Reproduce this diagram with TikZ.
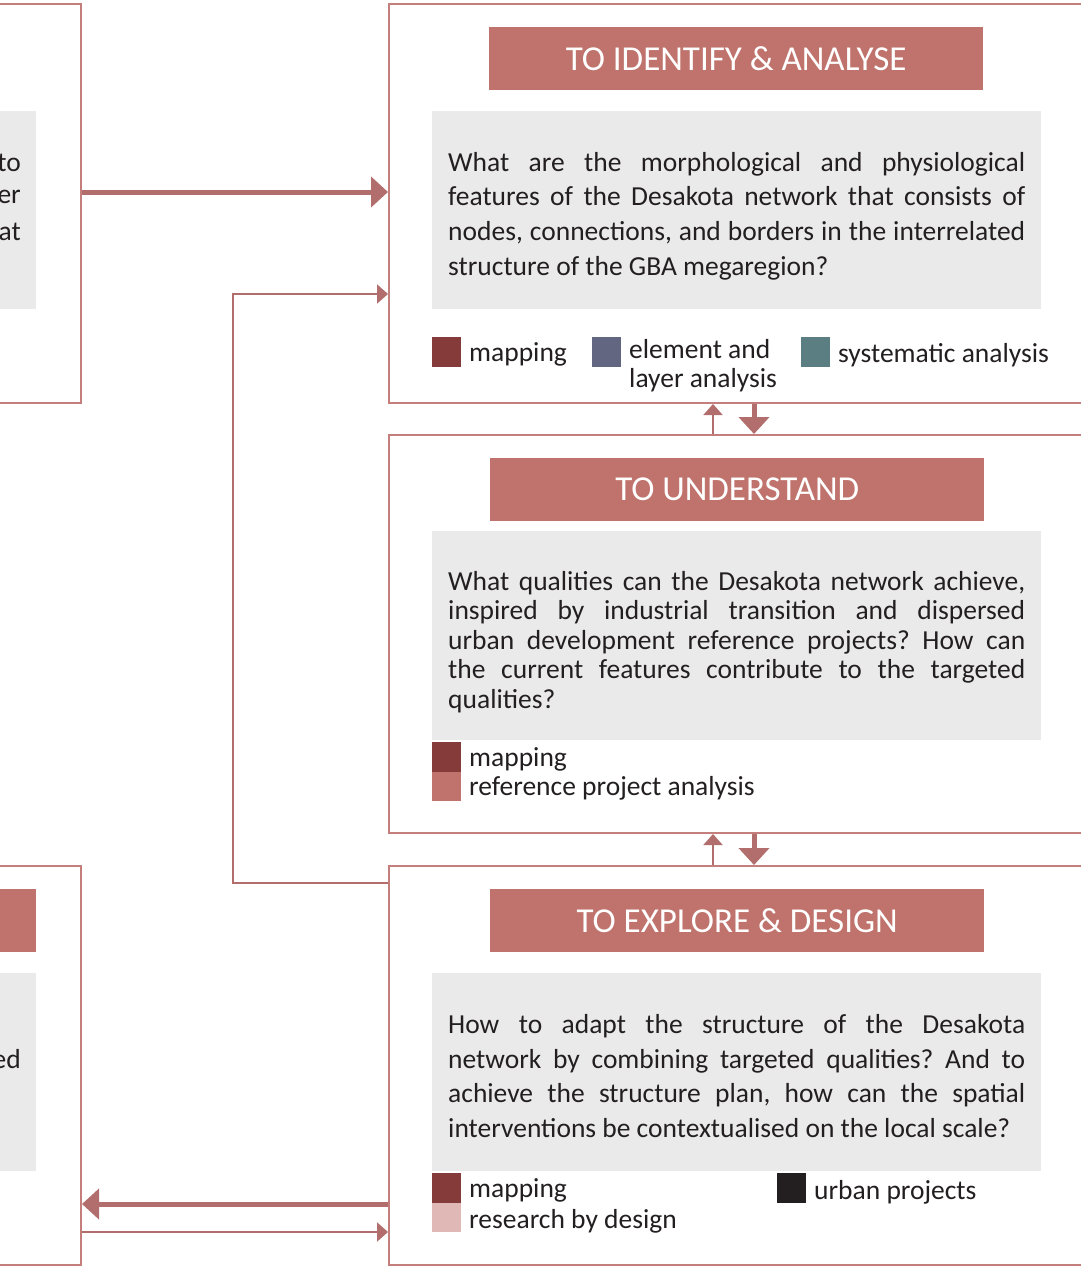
\documentclass[tikz,border=0pt]{standalone}
\usepackage{fontspec}
\setmainfont{Carlito}
\usetikzlibrary{arrows.meta}
\definecolor{frameC}{RGB}{196,126,124}
\definecolor{arrowC}{RGB}{178,110,108}
\definecolor{headC}{RGB}{191,115,108}
\definecolor{grayC}{RGB}{234,234,234}
\definecolor{mapC}{RGB}{132,59,58}
\definecolor{elemC}{RGB}{99,102,129}
\definecolor{sysC}{RGB}{90,126,130}
\definecolor{refC}{RGB}{191,115,108}
\definecolor{rbdC}{RGB}{224,184,182}
\definecolor{urbC}{RGB}{35,31,32}
\definecolor{txtC}{RGB}{35,31,32}
\frenchspacing
\newcommand{\jl}[1]{\makebox[577pt][s]{#1}\\}
\tikzset{
  frame/.style={draw=frameC, line width=2pt, fill=white, anchor=north west, inner sep=0pt},
  head/.style={fill=headC, anchor=north west, inner sep=0pt, text=white, font=\fontsize{35}{40}\selectfont},
  graybox/.style={fill=grayC, anchor=north west, inner sep=0pt},
  body/.style={anchor=north west, inner sep=0pt, align=left, text=txtC},
  swatch/.style={anchor=north west, inner sep=0pt, minimum width=29pt, minimum height=29.5pt},
  leg/.style={anchor=west, inner sep=0pt, text=txtC, font=\fontsize{27.5}{29.5}\selectfont, align=left},
  cut/.style={anchor=east, inner sep=0pt, text=txtC, font=\fontsize{27.5}{30}\selectfont},
  bigarrow/.style={draw=arrowC, line width=5pt, -{Triangle[length=17pt,width=30pt]}},
  smallarrow/.style={draw=arrowC, line width=2pt, -{Triangle[length=11pt,width=19pt]}},
}
\begin{document}
\begin{tikzpicture}[x=1pt,y=-1pt]
\useasboundingbox (0,0) rectangle (1080,1266);
% left boxes (cut off)
\node[frame, minimum width=100pt, minimum height=399pt] (L1) at (-20,3) {};
\node[graybox, minimum width=56pt, minimum height=198pt] (L1g) at (-20,111) {};
\node[cut] (L1a) at (21,163) {to};
\node[cut] (L1b) at (21,197) {er};
\node[cut] (L1c) at (21,232) {at};
\node[frame, minimum width=100pt, minimum height=399pt] (L2) at (-20,865) {};
\node[head, minimum width=56pt, minimum height=63pt] (L2h) at (-20,889) {};
\node[graybox, minimum width=56pt, minimum height=198pt] (L2g) at (-20,973) {};
\node[cut] (L2a) at (21,1059) {ed};
% right boxes
\node[frame, minimum width=720pt, minimum height=399pt] (R1) at (388,3) {};
\node[frame, minimum width=720pt, minimum height=398pt] (R2) at (388,434) {};
\node[frame, minimum width=720pt, minimum height=399pt] (R3) at (388,865) {};
% headers
\node[head, minimum width=494pt, minimum height=63pt] (H1) at (489,27) {TO IDENTIFY \& ANALYSE};
\node[head, minimum width=494pt, minimum height=63pt] (H2) at (490,458) {TO UNDERSTAND};
\node[head, minimum width=494pt, minimum height=63pt] (H3) at (490,889) {TO EXPLORE \& DESIGN};
% gray boxes
\node[graybox, minimum width=609pt, minimum height=198pt] (G1) at (432,111) {};
\node[graybox, minimum width=609pt, minimum height=209pt] (G2) at (432,531) {};
\node[graybox, minimum width=609pt, minimum height=198pt] (G3) at (432,973) {};
% body texts
\node[body, font=\fontsize{27.5}{34.7}\selectfont] (T1) at (448,152) {%
\jl{What are the morphological and physiological}
\jl{features of the Desakota network that consists of}
\jl{nodes, connections, and borders in the interrelated}
structure of the GBA megaregion?};
\node[body, font=\fontsize{27.5}{29.5}\selectfont] (T2) at (448,571) {%
\jl{What qualities can the Desakota network achieve,}
\jl{inspired by industrial transition and dispersed}
\jl{urban development reference projects? How can}
\jl{the current features contribute to the targeted}
qualities?};
\node[body, font=\fontsize{27.5}{34.7}\selectfont] (T3) at (448,1014) {%
\jl{How to adapt the structure of the Desakota}
\jl{network by combining targeted qualities? And to}
\jl{achieve the structure plan, how can the spatial}
interventions be contextualised on the local scale?};
% legends box 1
\node[swatch, fill=mapC] (S1a) at (432,337) {};
\node[leg] (S1at) at (469,354) {mapping};
\node[swatch, fill=elemC] (S1b) at (592,337) {};
\node[leg, anchor=north west] (S1bt) at (629,339) {element and\\layer analysis};
\node[swatch, fill=sysC] (S1c) at (801,337) {};
\node[leg] (S1ct) at (838,355) {systematic analysis};
% legends box 2
\node[swatch, fill=mapC] (S2a) at (432,742) {};
\node[swatch, fill=refC] (S2b) at (432,771.5) {};
\node[leg] (S2at) at (469,759) {mapping};
\node[leg] (S2bt) at (469,788) {reference project analysis};
% legends box 3
\node[swatch, fill=mapC] (S3a) at (432,1173) {};
\node[swatch, fill=rbdC] (S3b) at (432,1202.5) {};
\node[leg] (S3at) at (469,1190) {mapping};
\node[leg] (S3bt) at (469,1221) {research by design};
\node[swatch, fill=urbC] (S3c) at (777,1173) {};
\node[leg] (S3ct) at (814,1192) {urban projects};
% connectors
\draw[bigarrow] (L1.east |- 0,192) -- (R1.west |- 0,192);
\draw[smallarrow] (R3.west |- 0,883) -- (233,883) -- (233,294) -- (R1.west |- 0,294);
\draw[smallarrow] (R2.north -| 713,0) -- (R1.south -| 713,0);
\draw[bigarrow] (R1.south -| 754,0) -- (R2.north -| 754,0);
\draw[smallarrow] (R3.north -| 713,0) -- (R2.south -| 713,0);
\draw[bigarrow] (R2.south -| 754,0) -- (R3.north -| 754,0);
\draw[bigarrow] (R3.west |- 0,1204) -- (L2.east |- 0,1204);
\draw[smallarrow] (L2.east |- 0,1232) -- (R3.west |- 0,1232);
\end{tikzpicture}
\end{document}
